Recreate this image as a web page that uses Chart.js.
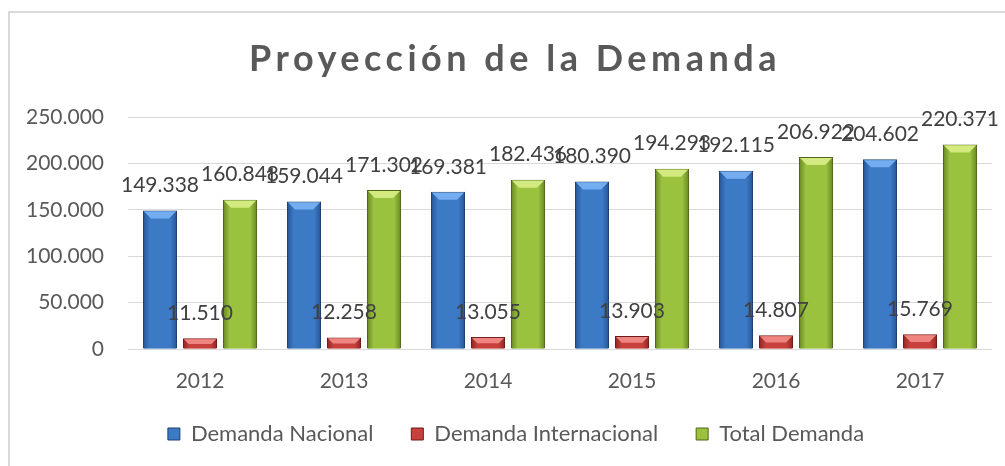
<!DOCTYPE html>
<html>
<head>
<meta charset="utf-8">
<script src="https://cdn.jsdelivr.net/npm/chart.js@4.4.0/dist/chart.umd.min.js"></script>
<style>
    html, body { margin: 0; padding: 0; background: #fff; overflow: hidden; }
    #wrap { position: relative; width: 1005px; height: 466px; }
    #frame { position: absolute; left: 8px; top: 11px; width: 1010px; height: 470px; border: 2px solid #d9d9d9; box-sizing: border-box; }
    #chart { position: absolute; left: 0; top: 0; }
</style>
</head>
<body>
<div id="wrap">
    <div id="frame"></div>
    <canvas id="chart" width="1005" height="466"></canvas>
</div>
<script>
// データ
const years = ['2012', '2013', '2014', '2015', '2016', '2017'];
const demandaNacional = [149338, 159044, 169381, 180390, 192115, 204602];
const demandaInternacional = [11510, 12258, 13055, 13903, 14807, 15769];
const totalDemanda = [160848, 171302, 182436, 194293, 206922, 220371];
const yTicks = [0, 50000, 100000, 150000, 200000, 250000];

const titleText = 'Proyección de la Demanda';
const FONT = 'Lato';

// 色 (暗い端, 中央, 明るい上面)
const palette = [
    { edge: '#275a9c', mid: '#3d7ac6', light: '#74aef0', border: '#1f3f6e' },
    { edge: '#962a27', mid: '#c9413d', light: '#ee8581', border: '#6e1a18' },
    { edge: '#6f8f25', mid: '#9bc23f', light: '#d2ea80', border: '#4e661a' }
];

function fmt(v) {
    return v.toLocaleString('de-DE');
}

// タイトル (文字間隔つき)
const titlePlugin = {
    id: 'spacedTitle',
    afterDraw(chart) {
        const ctx = chart.ctx;
        ctx.save();
        ctx.font = 'bold 36px ' + FONT;
        ctx.fillStyle = '#595959';
        ctx.textAlign = 'center';
        ctx.textBaseline = 'alphabetic';
        ctx.letterSpacing = '4.5px';
        ctx.fillText(titleText, 515, 71);
        ctx.restore();
    }
};

// 凡例の位置を微調整
const legendShift = {
    id: 'legendShift',
    afterLayout(chart) {
        const lg = chart.legend;
        if (!lg) return;
        lg.left += 20;
        lg.right += 20;
        lg.top -= 11;
        lg.bottom -= 11;
    }
};

// 立体風の棒
const bevelPlugin = {
    id: 'bevel',
    afterDatasetsDraw(chart) {
        const ctx = chart.ctx;
        chart.data.datasets.forEach((ds, i) => {
            const meta = chart.getDatasetMeta(i);
            const p = palette[i];
            meta.data.forEach(bar => {
                const left = bar.x - bar.width / 2 + 1;
                const right = bar.x + bar.width / 2 - 1;
                const top = bar.y + 1;
                const bottom = bar.base;
                const g = ctx.createLinearGradient(left, 0, right, 0);
                g.addColorStop(0, p.edge);
                g.addColorStop(0.18, p.mid);
                g.addColorStop(0.82, p.mid);
                g.addColorStop(1, p.edge);
                ctx.save();
                ctx.fillStyle = g;
                ctx.fillRect(left, top, right - left, bottom - top);
                const d = Math.min(7, (bottom - top) / 2);
                ctx.fillStyle = p.light;
                ctx.beginPath();
                ctx.moveTo(left, top);
                ctx.lineTo(right, top);
                ctx.lineTo(right - d, top + d);
                ctx.lineTo(left + d, top + d);
                ctx.closePath();
                ctx.fill();
                ctx.restore();
            });
        });
    }
};

// データラベル
const labelPlugin = {
    id: 'valueLabels',
    afterDatasetsDraw(chart) {
        const ctx = chart.ctx;
        ctx.save();
        ctx.font = '21px ' + FONT;
        ctx.fillStyle = '#404040';
        ctx.textAlign = 'center';
        ctx.textBaseline = 'middle';
        chart.data.datasets.forEach((ds, i) => {
            const meta = chart.getDatasetMeta(i);
            meta.data.forEach((bar, j) => {
                ctx.fillText(fmt(ds.data[j]), bar.x, bar.y - 25);
            });
        });
        ctx.restore();
    }
};

const ctx = document.getElementById('chart');
new Chart(ctx, {
    type: 'bar',
    data: {
        labels: years,
        datasets: [
            { label: 'Demanda Nacional', data: demandaNacional, backgroundColor: palette[0].mid, borderColor: palette[0].border, borderWidth: 1 },
            { label: 'Demanda Internacional', data: demandaInternacional, backgroundColor: palette[1].mid, borderColor: palette[1].border, borderWidth: 1 },
            { label: 'Total Demanda', data: totalDemanda, backgroundColor: palette[2].mid, borderColor: palette[2].border, borderWidth: 1 }
        ]
    },
    options: {
        responsive: false,
        animation: false,
        categoryPercentage: 0.833,
        barPercentage: 0.85,
        layout: { padding: { top: 117, right: 13, left: 0, bottom: 0 } },
        plugins: {
            title: { display: false },
            tooltip: { enabled: false },
            legend: {
                position: 'bottom',
                labels: {
                    font: { family: FONT, size: 22 },
                    color: '#595959',
                    boxWidth: 12,
                    boxHeight: 12,
                    padding: 38
                }
            }
        },
        scales: {
            x: {
                afterFit(scale) { scale.height = 47; },
                grid: { display: false },
                border: { display: false },
                ticks: { font: { family: FONT, size: 21 }, color: '#595959', padding: 12 }
            },
            y: {
                min: 0,
                max: 250000,
                afterFit(scale) { scale.width = 128; },
                afterBuildTicks(scale) { scale.ticks = yTicks.map(v => ({ value: v })); },
                grid: { color: '#d9d9d9', lineWidth: 1, drawTicks: false },
                border: { display: false },
                ticks: {
                    font: { family: FONT, size: 21 },
                    color: '#595959',
                    padding: 24,
                    callback: v => fmt(v)
                }
            }
        }
    },
    plugins: [legendShift, bevelPlugin, labelPlugin, titlePlugin]
});
</script>
</body>
</html>
